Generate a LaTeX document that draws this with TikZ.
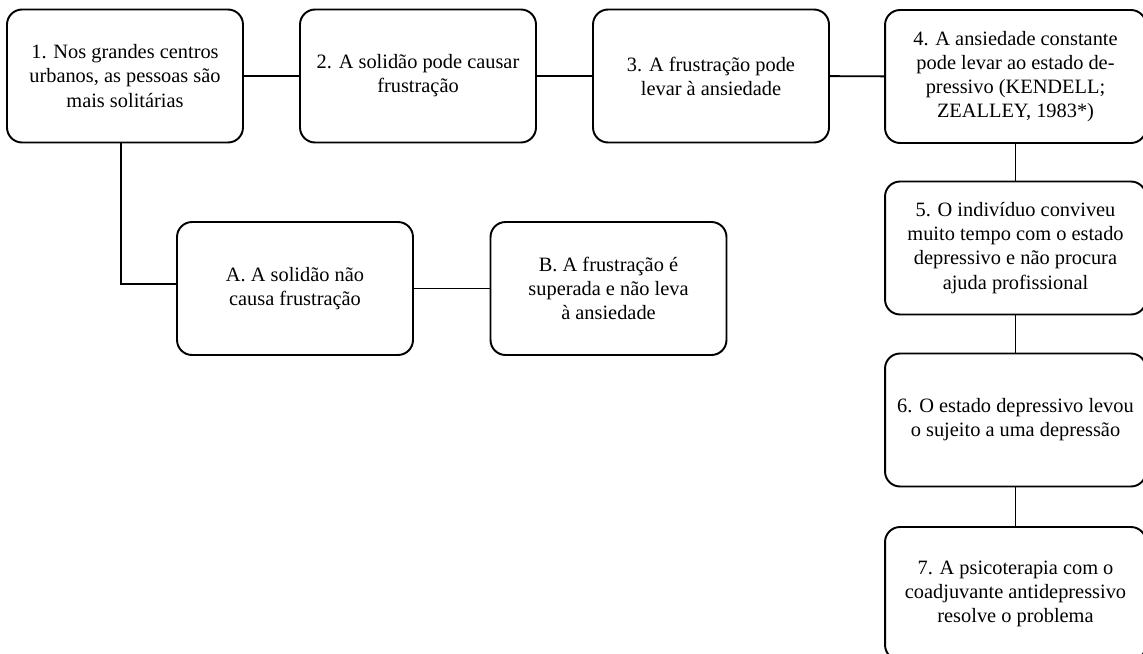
\documentclass[tikz,border=0pt]{standalone}
\usepackage{fontspec}
\setmainfont{Liberation Serif}
\usepackage{tikz}

\begin{document}
\begin{tikzpicture}[x=0.02cm,y=-0.02cm,
  box/.style={draw, rounded corners=0.3cm, line width=1.1pt, align=center,
    minimum width=4.72cm, minimum height=2.66cm, inner sep=2pt,
    font=\fontsize{11.6}{13.7}\selectfont},
  wide/.style={minimum width=5.22cm},
  link/.style={draw, line width=1.1pt}]
\useasboundingbox (0,0) rectangle (1143,653);
\clip (0,0) rectangle (1143,653);
\node[box] (1) at (125,76) {1. Nos grandes centros\\urbanos, as pessoas são\\mais solitárias};
\node[box] (2) at (418,76) {2. A solidão pode causar\\frustração};
\node[box] (3) at (711,76) {3. A frustração pode\\levar à ansiedade};
\node[box, wide] (4) at (1015.5,76.5) {4. A ansiedade constante\\pode levar ao estado de-\\pressivo (KENDELL;\\ZEALLEY, 1983*)};
\node[box, wide] (5) at (1015.5,248) {5. O indivíduo conviveu\\muito tempo com o estado\\depressivo e não procura\\ajuda profissional};
\node[box, wide] (6) at (1015.5,420) {6. O estado depressivo levou\\o sujeito a uma depressão};
\node[box, wide] (7) at (1015.5,593.5) {7. A psicoterapia com o\\coadjuvante antidepressivo\\resolve o problema};
\node[box] (a) at (295,288.5) {A. A solidão não\\causa frustração};
\node[box] (b) at (608.5,288.5) {B. A frustração é\\superada e não leva\\à ansiedade};
\path[link] (1) -- (2);
\path[link] (2) -- (3);
\path[link] (3) -- (4);
\path[link] (4) -- (5);
\path[link] (5) -- (6);
\path[link] (6) -- (7);
\path[link] (a) -- (b);
\path[link] ([xshift=-0.08cm]1.south) |- ([yshift=0.09cm]a.west);
\end{tikzpicture}
\end{document}
